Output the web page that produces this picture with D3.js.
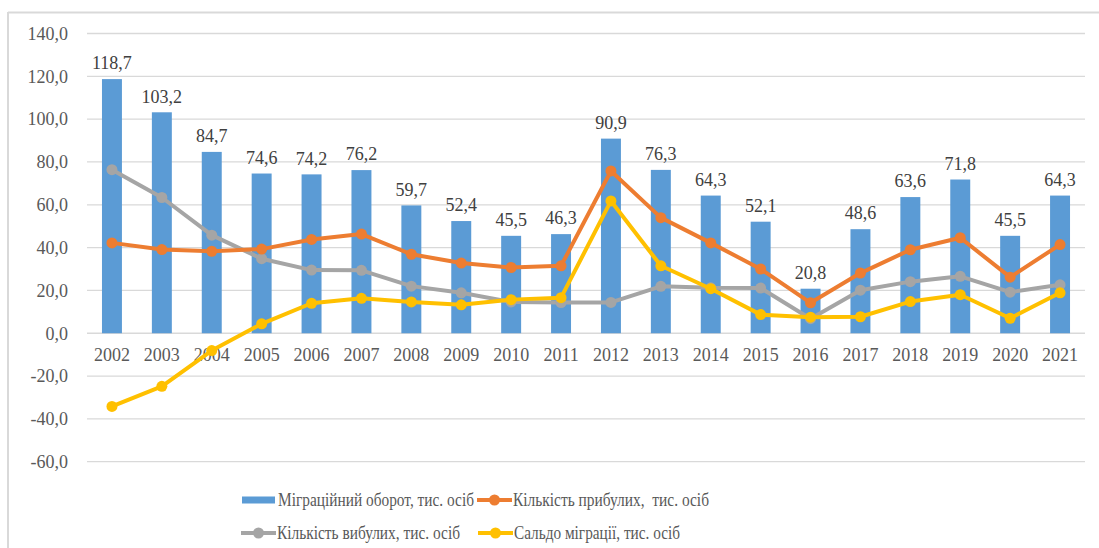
<!DOCTYPE html>
<html>
<head>
<meta charset="utf-8">
<script src="https://cdn.jsdelivr.net/npm/d3@7"></script>
<style>
  body { margin: 0; background: #fff; }
</style>
</head>
<body>
<svg id="chart" width="1099" height="548"></svg>
<script>
var years = ["2002","2003","2004","2005","2006","2007","2008","2009","2010","2011",
             "2012","2013","2014","2015","2016","2017","2018","2019","2020","2021"];
var turnover = [118.7,103.2,84.7,74.6,74.2,76.2,59.7,52.4,45.5,46.3,
                90.9,76.3,64.3,52.1,20.8,48.6,63.6,71.8,45.5,64.3];
var arrived = [42.2,39.1,38.3,39.3,43.8,46.3,36.9,32.8,30.7,31.5,
               75.8,54.0,42.2,30.0,14.2,28.1,39.0,44.6,26.2,41.4];
var departed = [76.4,63.4,45.8,34.8,29.5,29.4,22.0,18.9,14.6,14.3,
                14.4,21.9,21.2,21.1,6.8,20.1,24.1,26.6,19.2,22.6];
var saldo = [-34.2,-24.8,-8.1,4.4,14.0,16.3,14.6,13.3,15.7,16.6,
             61.8,31.5,20.8,8.7,7.5,7.7,14.8,18.0,7.0,18.9];
var yTicks = [140,120,100,80,60,40,20,0,-20,-40,-60];

var FONT = "'Liberation Serif', 'Times New Roman', serif";
var fmt = function(v){ return d3.format(".1f")(v).replace(".", ",").replace("−", "-"); };

var svg = d3.select("#chart").attr("font-family", FONT);

// frame (top and left edges only visible)
svg.append("line").attr("x1",8).attr("x2",1099).attr("y1",12.5).attr("y2",12.5)
  .attr("stroke","#d9d9d9").attr("stroke-width",2);
svg.append("line").attr("x1",8).attr("x2",8).attr("y1",12).attr("y2",548)
  .attr("stroke","#d9d9d9").attr("stroke-width",2);

var m = {left: 87, right: 1085, top: 33.5, bottom: 461.7};

var x = d3.scaleBand().domain(years).range([m.left, m.right]).paddingInner(0.6).paddingOuter(0.3);
var y = d3.scaleLinear().domain([-60,140]).range([m.bottom, m.top]);

// gridlines
svg.append("g").selectAll("line").data(yTicks).join("line")
  .attr("x1", m.left).attr("x2", m.right)
  .attr("y1", function(d){ return y(d); }).attr("y2", function(d){ return y(d); })
  .attr("stroke","#d9d9d9").attr("stroke-width",1.3);

// y labels
svg.append("g").selectAll("text").data(yTicks).join("text")
  .attr("x", 68).attr("y", function(d){ return y(d); })
  .attr("dy","0.35em").attr("text-anchor","end")
  .attr("font-size",18).attr("fill","#595959")
  .text(fmt);

// bars
svg.append("g").selectAll("rect").data(turnover).join("rect")
  .attr("x", function(d,i){ return x(years[i]); })
  .attr("width", x.bandwidth())
  .attr("y", function(d){ return y(d); })
  .attr("height", function(d){ return y(0) - y(d); })
  .attr("fill","#5B9BD5");

// bar labels
svg.append("g").selectAll("text").data(turnover).join("text")
  .attr("x", function(d,i){ return x(years[i]) + x.bandwidth()/2; })
  .attr("y", function(d){ return y(d) - 16; })
  .attr("dy","0.35em").attr("text-anchor","middle")
  .attr("font-size",18).attr("fill","#404040")
  .text(fmt);

// x labels
svg.append("g").selectAll("text").data(years).join("text")
  .attr("x", function(d){ return x(d) + x.bandwidth()/2; })
  .attr("y", 355).attr("dy","0.35em").attr("text-anchor","middle")
  .attr("font-size",18).attr("fill","#595959")
  .text(function(d){ return d; });

// lines
var series = [
  {values: departed, color: "#A5A5A5"},
  {values: arrived, color: "#ED7D31"},
  {values: saldo, color: "#FFC000"}
];
var line = d3.line()
  .x(function(d,i){ return x(years[i]) + x.bandwidth()/2; })
  .y(function(d){ return y(d); });

series.forEach(function(s){
  var g = svg.append("g");
  g.append("path").datum(s.values).attr("d", line)
    .attr("fill","none").attr("stroke", s.color).attr("stroke-width",4)
    .attr("stroke-linejoin","round");
  g.selectAll("circle").data(s.values).join("circle")
    .attr("cx", function(d,i){ return x(years[i]) + x.bandwidth()/2; })
    .attr("cy", function(d){ return y(d); })
    .attr("r", 5.5).attr("fill", s.color);
});

// legend
var legend = [
  {label: "Міграційний оборот, тис. осіб", color: "#5B9BD5", bar: true, x: 242, y: 500, w: 196},
  {label: "Кількість прибулих,  тис. осіб", color: "#ED7D31", bar: false, x: 477, y: 500, w: 196},
  {label: "Кількість вибулих, тис. осіб", color: "#A5A5A5", bar: false, x: 241, y: 533, w: 183},
  {label: "Сальдо міграції, тис. осіб", color: "#FFC000", bar: false, x: 478, y: 533, w: 166}
];
var lg = svg.append("g").selectAll("g").data(legend).join("g")
  .attr("transform", function(d){ return "translate(" + d.x + "," + d.y + ")"; });
lg.each(function(d){
  var g = d3.select(this);
  if (d.bar) {
    g.append("rect").attr("x",0).attr("y",-3.5).attr("width",33).attr("height",7).attr("fill",d.color);
  } else {
    g.append("line").attr("x1",0).attr("x2",35).attr("y1",0).attr("y2",0)
      .attr("stroke",d.color).attr("stroke-width",4);
    g.append("circle").attr("cx",17.5).attr("cy",0).attr("r",5.5).attr("fill",d.color);
  }
  g.append("text").attr("x", 36).attr("y",0).attr("dy","0.35em")
    .attr("font-size",18).attr("fill","#595959")
    .attr("textLength", d.w).attr("lengthAdjust","spacingAndGlyphs")
    .style("white-space","pre")
    .text(d.label);
});
</script>
</body>
</html>
